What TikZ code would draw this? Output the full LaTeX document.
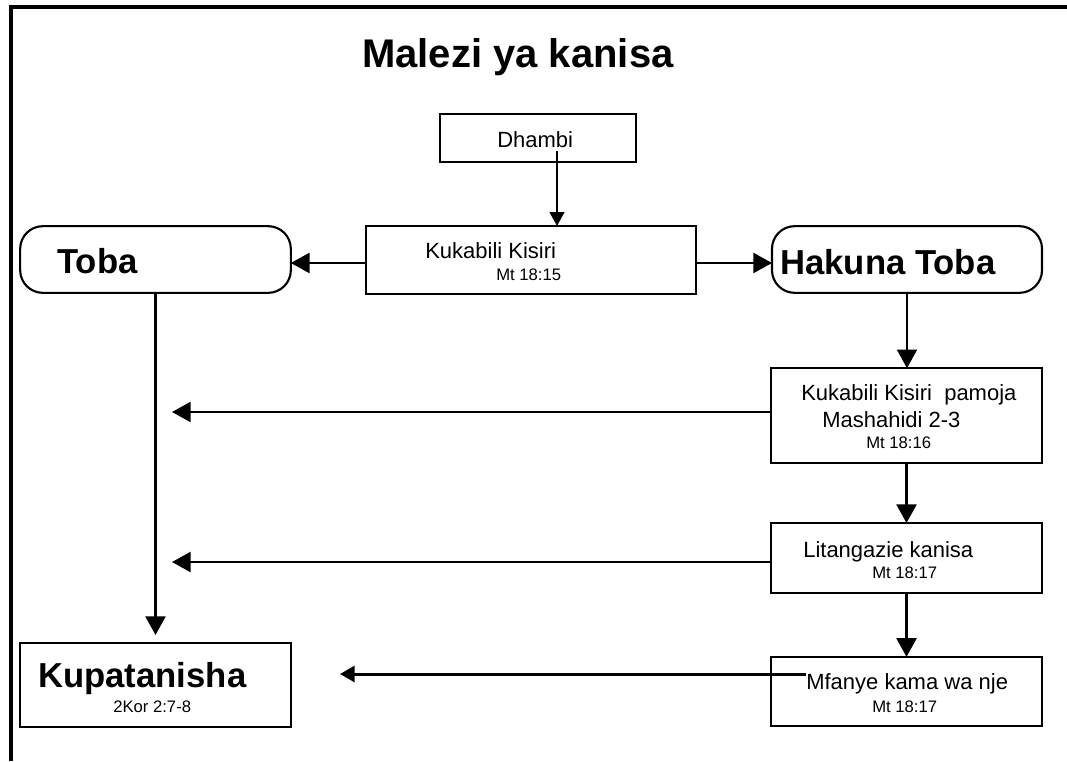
\documentclass[tikz,border=0pt]{standalone}
\usepackage{fontspec}
\setmainfont{Liberation Sans}
\usetikzlibrary{arrows.meta}

\newcommand{\titletxt}{\fontsize{30}{34}\selectfont\bfseries}
\newcommand{\bigtxt}{\fontsize{26}{30}\selectfont\bfseries}
\newcommand{\midtxt}{\fontsize{16.5}{19}\selectfont}
\newcommand{\smalltxt}{\fontsize{12.5}{15}\selectfont}

\begin{document}
\begin{tikzpicture}[x=0.75pt,y=-0.75pt,
    box/.style={draw,line width=1.6pt,inner sep=0pt,outer sep=0pt},
    rbox/.style={box,rounded corners=17pt},
    txt/.style={inner sep=0pt,anchor=base west},
    arr/.style={line width=1.7pt,-{Triangle[length=14pt,width=15pt]}}]
        \useasboundingbox[fill=white] (0,0) rectangle (1067,761);
        \draw[line width=3pt] (11,761) -- (11,7) -- (1067,7);
        \node[txt] (title) at (362,67) {\titletxt Malezi ya kanisa};
        % boxes
        \node[box,minimum width=147pt,minimum height=36pt] (dhambi) at (538,138) {};
        \node[box,minimum width=247.5pt,minimum height=51pt] (kukabili) at (531,260) {};
        \node[rbox,minimum width=203pt,minimum height=50pt] (toba) at (155.5,259.5) {};
        \node[rbox,minimum width=202.5pt,minimum height=50pt] (hakuna) at (907,259.5) {};
        \node[box,minimum width=203pt,minimum height=71pt] (mashahidi) at (906.5,415.5) {};
        \node[box,minimum width=203pt,minimum height=52.5pt] (litangazie) at (906.5,558) {};
        \node[box,minimum width=203pt,minimum height=52pt] (mfanye) at (906.5,691.5) {};
        \node[box,minimum width=203pt,minimum height=63pt] (kupatanisha) at (155.5,685) {};
        % texts
        \node[txt] (tdhambi) at (497,147) {\midtxt Dhambi};
        \node[txt] (tkukabili) at (425,258) {\midtxt Kukabili Kisiri};
        \node[txt] (mt15) at (496,280) {\smalltxt Mt 18:15};
        \node[txt] (ttoba) at (57,273) {\bigtxt Toba};
        \node[txt] (thakuna) at (780,274) {\bigtxt Hakuna Toba};
        \node[txt] (tpamoja) at (801,400) {\midtxt Kukabili Kisiri\ \ pamoja};
        \node[txt] (tmashahidi) at (822,427) {\midtxt Mashahidi 2-3};
        \node[txt] (mt16) at (866,448) {\smalltxt Mt 18:16};
        \node[txt] (tlitangazie) at (803,557) {\midtxt Litangazie kanisa};
        \node[txt] (mt17a) at (872,578) {\smalltxt Mt 18:17};
        \node[txt] (tmfanye) at (806,689) {\midtxt Mfanye kama wa nje};
        \node[txt] (mt17b) at (872,712) {\smalltxt Mt 18:17};
        \node[txt] (tkupatanisha) at (38,687) {\bigtxt Kupatanisha};
        \node[txt] (kor) at (113,712) {\smalltxt 2Kor 2:7-8};
        % arrows
        \coordinate (d1) at (557,151);
        \coordinate (k1) at (531,263);
        \coordinate (e1) at (172,412);
        \coordinate (e2) at (172,562);
        \coordinate (e3) at (340,674);
        \draw[arr,-{Triangle[length=10.5pt,width=11pt]}] (d1) -- (d1 |- kukabili.north);
        \draw[arr] (kukabili.west |- k1) -- (toba.east |- k1);
        \draw[arr] (kukabili.east |- k1) -- (hakuna.west |- k1);
        \draw[arr] (hakuna.south) -- (hakuna.south |- mashahidi.north);
        \draw[arr] (mashahidi.south) -- (litangazie.north);
        \draw[arr] (litangazie.south) -- (mfanye.north);
        \draw[arr] (mashahidi.west |- e1) -- (e1);
        \draw[arr] (litangazie.west |- e2) -- (e2);
        \draw[line width=2.25pt,-{Triangle[length=11pt,width=12pt]}] (tmfanye.west |- e3) -- (e3);
        \draw[arr] (toba.south) -- ([yshift=6pt]kupatanisha.north);
      \end{tikzpicture}
\end{document}
